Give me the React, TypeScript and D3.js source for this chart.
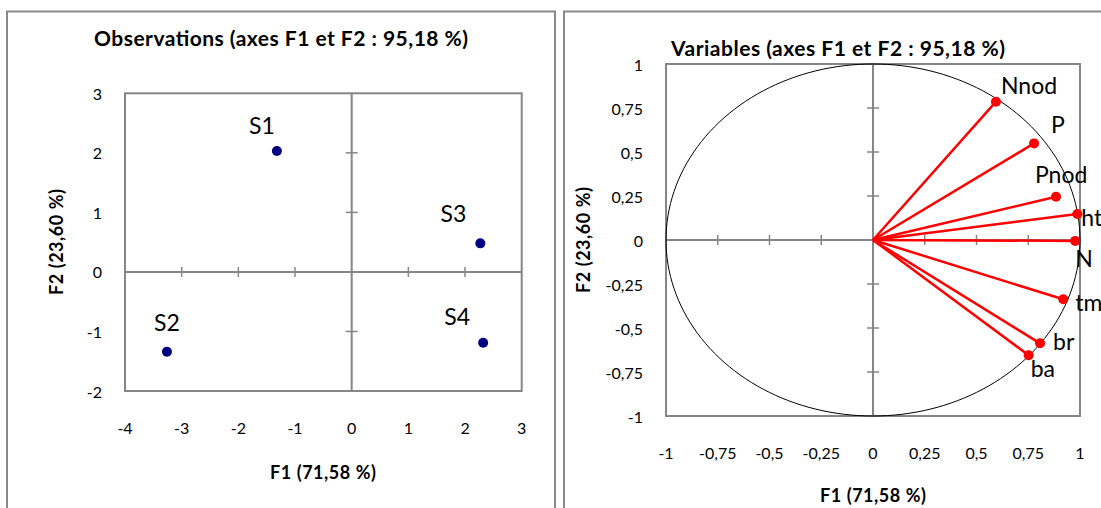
import React from "react";
import * as d3 from "d3";

// values
const obsNames = ["S1", "S2", "S3", "S4"];
const obsF1 = [-1.32, -3.26, 2.27, 2.32];
const obsF2 = [2.03, -1.34, 0.48, -1.19];

const varNames = ["Nnod", "P", "Pnod", "ht", "N", "tm", "br", "ba"];
const varF1 = [0.594, 0.778, 0.884, 0.987, 0.977, 0.919, 0.807, 0.752];
const varF2 = [0.786, 0.549, 0.246, 0.148, -0.005, -0.337, -0.587, -0.655];

const obsTicksX = [-4, -3, -2, -1, 0, 1, 2, 3];
const obsTicksY = [-2, -1, 0, 1, 2, 3];
const varTicks = [-1, -0.75, -0.5, -0.25, 0, 0.25, 0.5, 0.75, 1];

const titleObs = "Observations (axes F1 et F2 : 95,18 %)";
const titleVar = "Variables (axes F1 et F2 : 95,18 %)";
const xTitle = "F1 (71,58 %)";
const yTitle = "F2 (23,60 %)";

// label nudges (px) - the labels were moved by hand in the original
const obsNudge = [[-15, -26], [0, -30], [-27, -30], [-26, -27]];
const varNudge = [[5, -8], [17, -10], [-21, -14], [4, 12], [0, 26], [12, 12], [13, 7], [2, 22]];

const fr = d3.formatLocale({
  decimal: ",",
  thousands: " ",
  grouping: [3],
  currency: ["", " €"],
  minus: "-",
});
const fmt = fr.format("");

const FONT = "Lato, 'Open Sans', sans-serif";
const GRAY = "#868686";
const tickStyle = { fontFamily: FONT, fontSize: 16, fill: "#000" };
const titleStyle = { fontFamily: FONT, fontSize: 21, fontWeight: 700 };
const axisTitleStyle = { fontFamily: FONT, fontSize: 18, fontWeight: 700 };

function Frame({ x, y, w, h, xs, ys, xt, yt }) {
  // plot border, zero axes and little cross ticks, Excel style
  const x0 = xs(0), y0 = ys(0);
  return (
    <g>
      <rect x={x} y={y} width={w} height={h} fill="none" stroke={GRAY} strokeWidth={2} />
      <line x1={x} x2={x + w} y1={y0} y2={y0} stroke={GRAY} strokeWidth={2} />
      <line x1={x0} x2={x0} y1={y} y2={y + h} stroke={GRAY} strokeWidth={2} />
      {xt.filter((t) => t !== 0 && t !== xt[0] && t !== xt[xt.length - 1]).map((t) => (
        <line key={"xt" + t} x1={xs(t)} x2={xs(t)} y1={y0 - 5} y2={y0 + 5} stroke={GRAY} strokeWidth={1.5} />
      ))}
      {yt.filter((t) => t !== 0 && t !== yt[0] && t !== yt[yt.length - 1]).map((t) => (
        <line key={"yt" + t} x1={x0 - 6} x2={x0 + 6} y1={ys(t)} y2={ys(t)} stroke={GRAY} strokeWidth={1.5} />
      ))}
      {xt.map((t) => (
        <text key={"xl" + t} x={xs(t)} y={y + h + 36} textAnchor="middle" dominantBaseline="central" style={tickStyle}>
          {fmt(t)}
        </text>
      ))}
      {yt.map((t) => (
        <text key={"yl" + t} x={x - 23} y={ys(t)} textAnchor="end" dominantBaseline="central" style={tickStyle}>
          {fmt(t)}
        </text>
      ))}
    </g>
  );
}

function Observations() {
  const px = 125, py = 93.3, pw = 396.7, ph = 297.7;
  const xs = d3.scaleLinear().domain([-4, 3]).range([px, px + pw]);
  const ys = d3.scaleLinear().domain([-2, 3]).range([py + ph, py]);
  return (
    <g>
      <rect x={7} y={11.5} width={548} height={520} fill="#fff" stroke="#898989" strokeWidth={2} />
      <text x={281} y={37} textAnchor="middle" dominantBaseline="central" textLength={374} style={titleStyle}>
        {titleObs}
      </text>
      <Frame x={px} y={py} w={pw} h={ph} xs={xs} ys={ys} xt={obsTicksX} yt={obsTicksY} />
      {obsNames.map((n, i) => (
        <g key={n}>
          <circle cx={xs(obsF1[i])} cy={ys(obsF2[i])} r={5} fill="#000080" />
          <text x={xs(obsF1[i]) + obsNudge[i][0]} y={ys(obsF2[i]) + obsNudge[i][1]} textAnchor="middle"
            dominantBaseline="central" style={{ fontFamily: FONT, fontSize: 23 }}>{n}</text>
        </g>
      ))}
      <text x={323} y={471.7} textAnchor="middle" dominantBaseline="central" textLength={106} style={axisTitleStyle}>
        {xTitle}
      </text>
      <text transform={`translate(56,242) rotate(-90)`} textAnchor="middle" dominantBaseline="central" textLength={106}
        style={axisTitleStyle}>{yTitle}</text>
    </g>
  );
}

function Variables() {
  const px = 666, py = 64, pw = 414, ph = 352;
  const xs = d3.scaleLinear().domain([-1, 1]).range([px, px + pw]);
  const ys = d3.scaleLinear().domain([-1, 1]).range([py + ph, py]);
  const circle = d3.range(0, 361, 2).map((a) => [Math.cos((a * Math.PI) / 180), Math.sin((a * Math.PI) / 180)]);
  const line = d3.line().x((d) => xs(d[0])).y((d) => ys(d[1]));
  return (
    <g>
      <rect x={564} y={11.5} width={560} height={520} fill="#fff" stroke="#898989" strokeWidth={2} />
      <text x={838} y={47} textAnchor="middle" dominantBaseline="central" textLength={334} style={titleStyle}>
        {titleVar}
      </text>
      <Frame x={px} y={py} w={pw} h={ph} xs={xs} ys={ys} xt={varTicks} yt={varTicks} />
      <path d={line(circle)} fill="none" stroke="#000" strokeWidth={1} />
      {varNames.map((n, i) => (
        <g key={n}>
          <line x1={xs(0)} y1={ys(0)} x2={xs(varF1[i])} y2={ys(varF2[i])} stroke="#ff0000" strokeWidth={2.5} />
          <circle cx={xs(varF1[i])} cy={ys(varF2[i])} r={5} fill="#ff0000" />
          <text x={xs(varF1[i]) + varNudge[i][0]} y={ys(varF2[i]) + varNudge[i][1]}
            style={{ fontFamily: FONT, fontSize: 23 }}>{n}</text>
        </g>
      ))}
      <text x={873} y={495} textAnchor="middle" dominantBaseline="central" textLength={106} style={axisTitleStyle}>
        {xTitle}
      </text>
      <text transform={`translate(583,240) rotate(-90)`} textAnchor="middle" dominantBaseline="central" textLength={106}
        style={axisTitleStyle}>{yTitle}</text>
    </g>
  );
}

export default function App() {
  return (
    <svg width={1101} height={508} style={{ position: "absolute", left: 0, top: 0, background: "#fff" }}>
      <rect width={1101} height={508} fill="#fff" />
      <Observations />
      <Variables />
    </svg>
  );
}
